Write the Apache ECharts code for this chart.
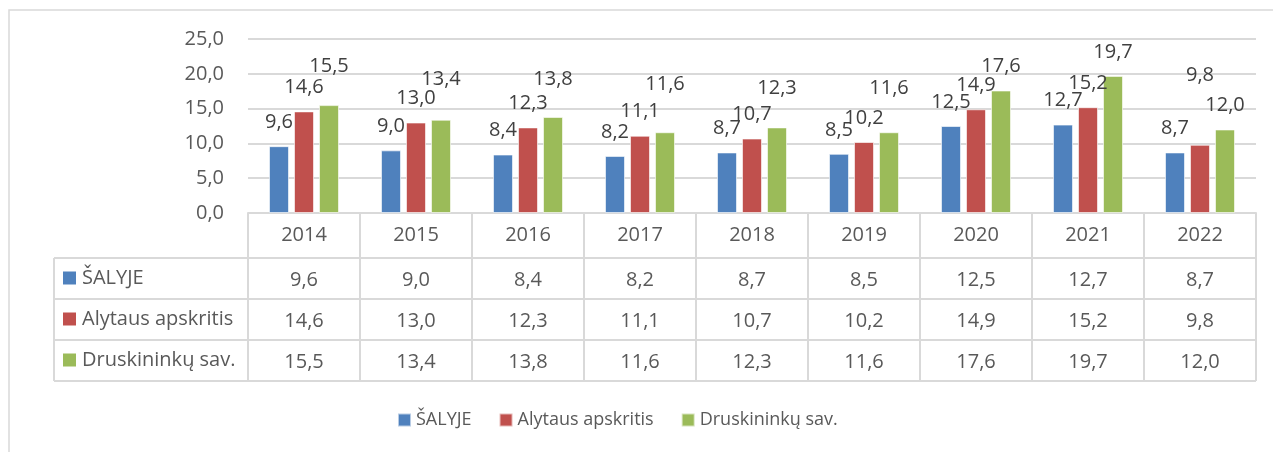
<!DOCTYPE html>
<html>
<head>
<meta charset="utf-8">
<script src="https://cdn.jsdelivr.net/npm/echarts@6/dist/echarts.min.js"></script>
<style>
  html, body { margin: 0; padding: 0; background: #fff; }
  #chart { width: 1273px; height: 452px; }
</style>
</head>
<body>
<div id="chart"></div>
<script>
// duomenys
const years = ["2014", "2015", "2016", "2017", "2018", "2019", "2020", "2021", "2022"];
const seriesNames = ["ŠALYJE", "Alytaus apskritis", "Druskininkų sav."];
const salyje = [9.6, 9.0, 8.4, 8.2, 8.7, 8.5, 12.5, 12.7, 8.7];
const alytaus = [14.6, 13.0, 12.3, 11.1, 10.7, 10.2, 14.9, 15.2, 9.8];
const druskininku = [15.5, 13.4, 13.8, 11.6, 12.3, 11.6, 17.6, 19.7, 12.0];
const yTicks = [0, 5, 10, 15, 20, 25];

const colors = ["#4F81BD", "#C0504D", "#9BBB59"];
// extra label lift (px) where the labels were dragged up by hand in the original
const labelLift = [
  [0, 0, 0, 0, 0, 0, 0, 0, 0],
  [0, 0, 0, 0, 0, 0, 0, 0, 45],
  [15, 16, 14, 24, 15, 20, 0, 0, 0],
];

const fmt = (v) => v.toFixed(1).replace(".", ",");
const FONT = "'Open Sans', 'Noto Sans', sans-serif";
const LINE = "#d9d9d9";

// layout of the plot + data table
const gridLeft = 248, gridRight = 1256, gridTop = 39, gridBottom = 213;
const headerH = 45, rowH = 41;
const tableLeft = 54;

const chart = echarts.init(document.getElementById("chart"));
const allValues = [salyje, alytaus, druskininku];

function render() {
  const tableBottom = gridBottom + headerH + rowH * 3;
  const graphics = [
    // outer frame
    { type: "rect", shape: { x: 9, y: 10, width: 1290, height: 470 }, style: { fill: "none", stroke: LINE, lineWidth: 1.5 }, silent: true },
    // left border of the series-name column
    { type: "line", shape: { x1: tableLeft, y1: gridBottom + headerH, x2: tableLeft, y2: tableBottom }, style: { stroke: LINE, lineWidth: 2 } },
  ];
  for (let r = 0; r <= 3; r++) {
    const y = gridBottom + headerH + rowH * r;
    graphics.push({ type: "line", shape: { x1: tableLeft, y1: y, x2: gridRight, y2: y }, style: { stroke: LINE, lineWidth: 2 } });
  }
  seriesNames.forEach((name, i) => {
    const cy = gridBottom + headerH + rowH * i + rowH / 2;
    graphics.push({ type: "rect", shape: { x: 63, y: cy - 7, width: 13, height: 13 }, style: { fill: colors[i] } });
    graphics.push({ type: "text", x: 82, y: cy, style: { text: name, font: "20px " + FONT, fill: "#595959", verticalAlign: "middle" } });
  });

  const valueAxes = allValues.map((vals, i) => ({
    type: "category",
    data: vals.map(fmt),
    position: "bottom",
    offset: headerH + rowH * i,
    axisLine: { show: false },
    axisTick: { show: false },
    axisLabel: { interval: 0, margin: 12, fontSize: 20, fontFamily: FONT, color: "#595959" },
  }));

  const options = {
    animation: false,
    color: colors,
    grid: { left: gridLeft, right: 1273 - gridRight, top: gridTop, bottom: 452 - gridBottom, containLabel: false },
    xAxis: [
      {
        type: "category",
        data: years,
        axisLine: { show: true, lineStyle: { color: LINE, width: 2 } },
        axisTick: { show: true, interval: 0, length: headerH + rowH * 3, lineStyle: { color: LINE, width: 2 } },
        axisLabel: { interval: 0, margin: 12, fontSize: 20, fontFamily: FONT, color: "#595959" },
      },
      ...valueAxes,
    ],
    yAxis: {
      type: "value",
      min: yTicks[0],
      max: yTicks[yTicks.length - 1],
      interval: yTicks[1] - yTicks[0],
      axisLine: { show: false },
      axisTick: { show: false },
      splitLine: { lineStyle: { color: LINE, width: 2 } },
      axisLabel: { margin: 24, fontSize: 20, fontFamily: FONT, color: "#595959", formatter: fmt },
    },
    legend: {
      data: seriesNames,
      top: 406,
      left: 392,
      icon: "rect",
      itemWidth: 13,
      itemHeight: 13,
      itemGap: 27,
      textStyle: { fontSize: 18, fontFamily: FONT, color: "#595959" },
      selectedMode: false,
    },
    series: allValues.map((vals, i) => ({
      name: seriesNames[i],
      type: "bar",
      xAxisIndex: 0,
      barWidth: 20,
      barGap: "25%",
      itemStyle: { borderColor: "rgba(255,255,255,0.6)", borderWidth: 1 },
      label: {
        show: true,
        position: "top",
        distance: 14,
        fontSize: 20,
        fontFamily: FONT,
        color: "#404040",
        formatter: (p) => fmt(p.value),
      },
      data: vals.map((v, j) => ({ value: v, label: { offset: [0, -labelLift[i][j]] } })),
    })),
    graphic: graphics,
  };
  chart.setOption(options);
}
render();
window.onresize = function () {
  chart.resize();
};
</script>
</body>
</html>
